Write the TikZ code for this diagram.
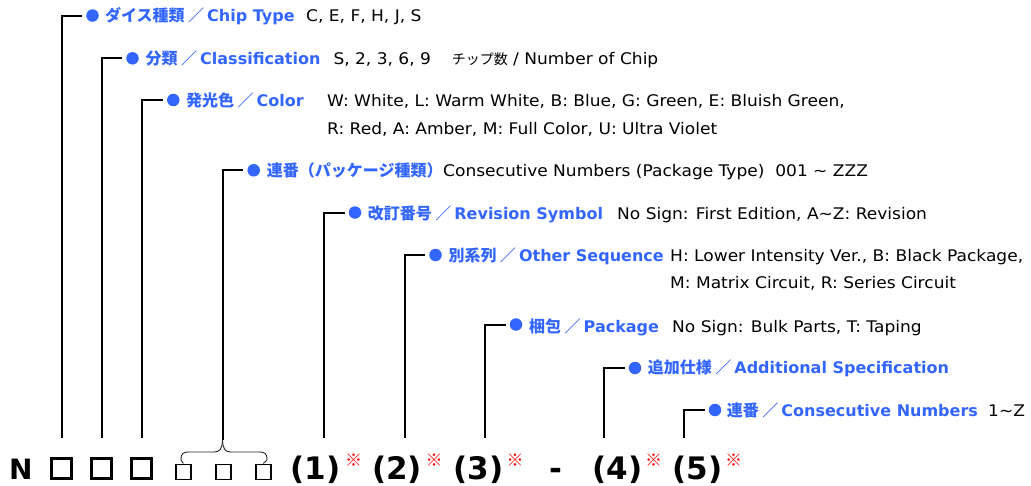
\documentclass[tikz,border=0pt]{standalone}
\usepackage{fontspec}
\setmainfont{DejaVu Sans}
\newfontfamily\valfont[FakeStretch=1.065]{DejaVu Sans}
\newfontfamily\jp{Noto Sans CJK JP}
\definecolor{lblue}{RGB}{51,102,255}
\definecolor{mred}{RGB}{255,0,0}
\tikzset{
  conn/.style={draw=black, line width=2pt},
  dot/.style={circle, fill=lblue, inner sep=0pt, minimum size=12.5pt},
  lbl/.style={anchor=base west, inner sep=0pt, text=lblue, font=\fontsize{16}{19}\selectfont\bfseries},
  val/.style={anchor=base west, inner sep=0pt, text=black, font=\valfont\fontsize{16}{19}\selectfont},
  bigsq/.style={draw=black, line width=3pt, minimum size=20pt, inner sep=0pt},
  smallsq/.style={draw=black, line width=1.6pt, minimum size=15pt, inner sep=0pt},
  code/.style={anchor=base west, inner sep=0pt, font=\fontsize{31}{34}\selectfont\bfseries},
  refmark/.style={inner sep=0pt, text=mred, font=\jp\fontsize{17}{19}\selectfont}
}
\newcommand{\jl}[1]{{\jp\fontsize{16}{19}\selectfont\bfseries #1}}
\newcommand{\sep}{\hspace{3.5pt}\jl{／}\hspace{3pt}}
\begin{document}
\begin{tikzpicture}[x=1pt,y=-1pt]
\useasboundingbox (0,0) rectangle (1031,485);
% ---- bottom code row
\node[code, font=\fontsize{28}{32}\selectfont\bfseries] (n) at (9,479) {N};
\node[bigsq] (q1) at (61.5,468.5) {};
\node[bigsq] (q2) at (101.5,468.5) {};
\node[bigsq] (q3) at (141.5,468.5) {};
\node[smallsq] (s1) at (183.3,471.8) {};
\node[smallsq] (s2) at (223.3,471.8) {};
\node[smallsq] (s3) at (263.3,471.8) {};
\node[code] (c1) at (290.5,479) {(1)};
\node[refmark] (m1) at (353.5,460) {※};
\node[code] (c2) at (372,479) {(2)};
\node[refmark] (m2) at (434,460) {※};
\node[code] (c3) at (453.5,479) {(3)};
\node[refmark] (m3) at (515,460) {※};
\node[code] (dash) at (549,479) {-};
\node[code] (c4) at (592.5,479) {(4)};
\node[refmark] (m4) at (653.5,460) {※};
\node[code] (c5) at (672.5,479) {(5)};
\node[refmark] (m5) at (733.5,460) {※};
% brace over the small squares
\coordinate (bt) at (222.5,440);
\draw[line width=0.9pt, black!85] (s1.north) -- (181,460) .. controls (181,453) and (183,452) .. (190,452) -- (214,452) .. controls (220,452) and (222,449) .. (bt);
\draw[line width=0.9pt, black!85] (s3.north) -- (267,460) .. controls (267,453) and (265,452) .. (258,452) -- (231,452) .. controls (225,452) and (223,449) .. (bt);
% ---- line bottoms
\coordinate (b1) at (62,438);
\coordinate (b2) at (102,438);
\coordinate (b3) at (142,438);
\coordinate (b5) at (324,438);
\coordinate (b6) at (405,438);
\coordinate (b7) at (485,438);
\coordinate (b8) at (604,438);
\coordinate (b9) at (684,438);
% ---- dots and labels
\node[dot] (d1) at (92.5,15.5) {};
\node[lbl] (l1) at (105,21.5) {\jl{ダイス種類}\sep Chip Type};
\node[val] (v1) at (306,21.5) {C, E, F, H, J, S};

\node[dot] (d2) at (132.5,58.3) {};
\node[lbl] (l2) at (145.5,64) {\jl{分類}\sep Classification};
\node[val] (v2) at (333.3,64) {S, 2, 3, 6, 9};
\node[val] (v2b) at (451.7,64) {\jp\fontsize{14}{16}\selectfont チップ数};
\node[val] (v2c) at (513,64) {/ Number of Chip};

\node[dot] (d3) at (173.3,100) {};
\node[lbl] (l3) at (186,106.5) {\jl{発光色}\sep Color};
\node[val] (v3) at (327,106.5) {W: White, L: Warm White, B: Blue, G: Green, E: Bluish Green,};
\node[val] (v3b) at (327,134.5) {R: Red, A: Amber, M: Full Color, U: Ultra Violet};

\node[dot] (d4) at (253.7,170.3) {};
\node[lbl] (l4) at (266.7,176.5) {\jl{連番（パッケージ種類）}};
\node[val] (v4) at (443,176.5) {Consecutive Numbers (Package Type)\ \ 001 \textasciitilde\ ZZZ};

\node[dot] (d5) at (355,212.5) {};
\node[lbl] (l5) at (367.7,219) {\jl{改訂番号}\sep Revision Symbol};
\node[val] (v5) at (617,219) {No Sign: First Edition, A\textasciitilde Z: Revision};

\node[dot] (d6) at (435.5,255) {};
\node[lbl] (l6) at (448.3,261) {\jl{別系列}\sep Other Sequence};
\node[val] (v6) at (670,261) {H: Lower Intensity Ver., B: Black Package,};
\node[val] (v6b) at (670,288.5) {M: Matrix Circuit, R: Series Circuit};

\node[dot] (d7) at (516,324.5) {};
\node[lbl] (l7) at (529,332) {\jl{梱包}\sep Package};
\node[val] (v7) at (672,332) {No Sign: Bulk Parts, T: Taping};

\node[dot] (d8) at (635,368) {};
\node[lbl] (l8) at (647.7,373.5) {\jl{追加仕様}\sep Additional Specification};

\node[dot] (d9) at (715,410) {};
\node[lbl] (l9) at (726.7,416) {\jl{連番}\sep Consecutive Numbers};
\node[val] (v9) at (988,416) {1\textasciitilde Z};
% ---- connectors
\draw[conn] (b1) |- ([xshift=-4pt]d1.west);
\draw[conn] (b2) |- ([xshift=-4pt]d2.west);
\draw[conn] (b3) |- ([xshift=-4pt]d3.west);
\draw[conn] (bt) |- ([xshift=-4pt]d4.west);
\draw[conn] (b5) |- ([xshift=-4pt]d5.west);
\draw[conn] (b6) |- ([xshift=-4pt]d6.west);
\draw[conn] (b7) |- ([xshift=-4pt]d7.west);
\draw[conn] (b8) |- ([xshift=-4pt]d8.west);
\draw[conn] (b9) |- ([xshift=-4pt]d9.west);
\end{tikzpicture}
\end{document}
